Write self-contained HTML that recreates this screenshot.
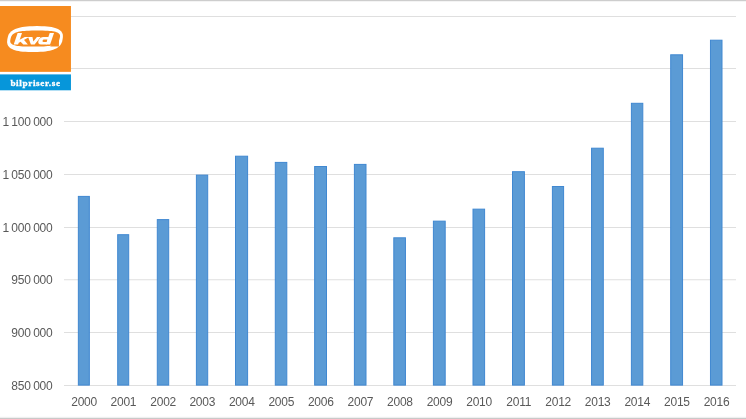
<!DOCTYPE html>
<html><head><meta charset="utf-8"><title>chart</title>
<style>
html,body{margin:0;padding:0;background:#fff;}
body{width:746px;height:419px;position:relative;overflow:hidden;font-family:"Liberation Sans",sans-serif;}
svg{position:absolute;left:0;top:0;display:block;}
.t{position:absolute;left:0;top:0;width:746px;height:419px;will-change:transform;opacity:.999;}
.yl{position:absolute;left:0;width:52.5px;text-align:right;font-size:12px;line-height:14px;color:#595959;word-spacing:-0.7px;letter-spacing:-0.22px;white-space:nowrap;}
.xl{position:absolute;width:40px;letter-spacing:-0.25px;text-align:center;font-size:12px;line-height:14px;color:#595959;top:395px;}
.bp{position:absolute;left:0;top:74.8px;width:71px;color:#fff;font-family:"Liberation Serif",serif;font-weight:bold;font-size:9.2px;line-height:16px;text-align:center;letter-spacing:.62px;-webkit-text-stroke:.3px #fff;}
</style></head><body>
<svg width="746" height="419" viewBox="0 0 746 419">
<rect x="0" y="0" width="746" height="1" fill="#cdcdcd"/><rect x="0" y="1" width="746" height="1" fill="#f4f4f4"/>
<rect x="0" y="416" width="746" height="1" fill="#fcfcfc"/><rect x="0" y="417" width="746" height="1" fill="#efefef"/><rect x="0" y="418" width="746" height="1" fill="#c9c9c9"/>
<rect x="64.0" y="16.00" width="672.0" height="1" fill="#dfdfdf"/>
<rect x="64.0" y="68.00" width="672.0" height="1" fill="#dfdfdf"/>
<rect x="64.0" y="121.00" width="672.0" height="1" fill="#dfdfdf"/>
<rect x="64.0" y="174.00" width="672.0" height="1" fill="#dfdfdf"/>
<rect x="64.0" y="227.00" width="672.0" height="1" fill="#dfdfdf"/>
<rect x="64.0" y="279.25" width="672.0" height="1" fill="#dfdfdf"/>
<rect x="64.0" y="332.00" width="672.0" height="1" fill="#dfdfdf"/>
<rect x="64.0" y="385.00" width="672.0" height="1" fill="#dfdfdf"/>
<rect x="77.85" y="195.90" width="11.00" height="188.70" fill="#5b9bd5" stroke="#4088d1" stroke-width="1" stroke-linejoin="miter" transform="translate(0.5 0.5)"/>
<rect x="117.20" y="234.20" width="11.00" height="150.40" fill="#5b9bd5" stroke="#4088d1" stroke-width="1" stroke-linejoin="miter" transform="translate(0.5 0.5)"/>
<rect x="156.80" y="219.10" width="11.40" height="165.50" fill="#5b9bd5" stroke="#4088d1" stroke-width="1" stroke-linejoin="miter" transform="translate(0.5 0.5)"/>
<rect x="195.90" y="174.60" width="11.30" height="210.00" fill="#5b9bd5" stroke="#4088d1" stroke-width="1" stroke-linejoin="miter" transform="translate(0.5 0.5)"/>
<rect x="235.00" y="155.70" width="12.10" height="228.90" fill="#5b9bd5" stroke="#4088d1" stroke-width="1" stroke-linejoin="miter" transform="translate(0.5 0.5)"/>
<rect x="274.80" y="161.90" width="11.50" height="222.70" fill="#5b9bd5" stroke="#4088d1" stroke-width="1" stroke-linejoin="miter" transform="translate(0.5 0.5)"/>
<rect x="314.15" y="166.00" width="11.85" height="218.60" fill="#5b9bd5" stroke="#4088d1" stroke-width="1" stroke-linejoin="miter" transform="translate(0.5 0.5)"/>
<rect x="353.90" y="163.90" width="11.60" height="220.70" fill="#5b9bd5" stroke="#4088d1" stroke-width="1" stroke-linejoin="miter" transform="translate(0.5 0.5)"/>
<rect x="393.30" y="237.30" width="11.65" height="147.30" fill="#5b9bd5" stroke="#4088d1" stroke-width="1" stroke-linejoin="miter" transform="translate(0.5 0.5)"/>
<rect x="432.90" y="220.65" width="11.80" height="163.95" fill="#5b9bd5" stroke="#4088d1" stroke-width="1" stroke-linejoin="miter" transform="translate(0.5 0.5)"/>
<rect x="472.50" y="208.65" width="11.60" height="175.95" fill="#5b9bd5" stroke="#4088d1" stroke-width="1" stroke-linejoin="miter" transform="translate(0.5 0.5)"/>
<rect x="512.00" y="171.20" width="11.90" height="213.40" fill="#5b9bd5" stroke="#4088d1" stroke-width="1" stroke-linejoin="miter" transform="translate(0.5 0.5)"/>
<rect x="551.90" y="186.00" width="11.20" height="198.60" fill="#5b9bd5" stroke="#4088d1" stroke-width="1" stroke-linejoin="miter" transform="translate(0.5 0.5)"/>
<rect x="591.05" y="147.70" width="11.75" height="236.90" fill="#5b9bd5" stroke="#4088d1" stroke-width="1" stroke-linejoin="miter" transform="translate(0.5 0.5)"/>
<rect x="630.90" y="102.80" width="11.40" height="281.80" fill="#5b9bd5" stroke="#4088d1" stroke-width="1" stroke-linejoin="miter" transform="translate(0.5 0.5)"/>
<rect x="670.20" y="54.30" width="11.85" height="330.30" fill="#5b9bd5" stroke="#4088d1" stroke-width="1" stroke-linejoin="miter" transform="translate(0.5 0.5)"/>
<rect x="709.97" y="39.70" width="11.53" height="344.90" fill="#5b9bd5" stroke="#4088d1" stroke-width="1" stroke-linejoin="miter" transform="translate(0.5 0.5)"/>
<rect x="0" y="6" width="70.95" height="65.85" fill="#f68b1f"/>
<rect x="0" y="74.4" width="70.95" height="15.9" fill="#0696da"/>
<path d="M62.60,39.05L62.19,41.17L61.73,42.59L61.15,43.81L60.43,44.90L59.58,45.89L58.58,46.80L57.45,47.63L56.18,48.38L54.76,49.07L53.21,49.68L51.52,50.22L49.67,50.69L47.68,51.09L45.51,51.42L43.14,51.67L40.52,51.85L37.48,51.96L32.95,52.00L28.43,51.96L25.43,51.85L22.86,51.67L20.57,51.42L18.51,51.09L16.64,50.69L14.95,50.22L13.42,49.68L12.06,49.07L10.87,48.38L9.83,47.63L8.96,46.80L8.26,45.89L7.72,44.90L7.35,43.81L7.15,42.59L7.14,41.17L7.40,39.05L7.81,36.93L8.27,35.51L8.85,34.29L9.57,33.20L10.42,32.21L11.42,31.30L12.55,30.47L13.82,29.72L15.24,29.03L16.79,28.42L18.48,27.88L20.33,27.41L22.32,27.01L24.49,26.68L26.86,26.43L29.48,26.25L32.52,26.14L37.05,26.10L41.57,26.14L44.57,26.25L47.14,26.43L49.43,26.68L51.49,27.01L53.36,27.41L55.05,27.88L56.58,28.42L57.94,29.03L59.13,29.72L60.17,30.47L61.04,31.30L61.74,32.21L62.28,33.20L62.65,34.29L62.85,35.51L62.86,36.93Z" fill="#fff"/>
<path d="M59.65,38.60L59.16,40.34L58.75,41.28L58.27,42.04L57.70,42.69L57.02,43.27L56.25,43.79L55.37,44.25L54.38,44.67L53.27,45.04L52.05,45.37L50.70,45.66L49.21,45.91L47.58,46.12L45.76,46.29L43.72,46.43L41.38,46.52L38.49,46.58L33.16,46.60L27.83,46.58L24.97,46.52L22.67,46.43L20.70,46.29L18.97,46.12L17.44,45.91L16.08,45.66L14.87,45.37L13.82,45.04L12.90,44.67L12.11,44.25L11.46,43.79L10.95,43.27L10.56,42.69L10.32,42.04L10.22,41.28L10.27,40.34L10.65,38.60L11.14,36.86L11.55,35.92L12.03,35.16L12.60,34.51L13.28,33.93L14.05,33.41L14.93,32.95L15.92,32.53L17.03,32.16L18.25,31.83L19.60,31.54L21.09,31.29L22.72,31.08L24.54,30.91L26.58,30.77L28.92,30.68L31.81,30.62L37.14,30.60L42.47,30.62L45.33,30.68L47.63,30.77L49.60,30.91L51.33,31.08L52.86,31.29L54.22,31.54L55.43,31.83L56.48,32.16L57.40,32.53L58.19,32.95L58.84,33.41L59.35,33.93L59.74,34.51L59.98,35.16L60.08,35.92L60.03,36.86ZM50,46.55L59.0,40.5L58.9,46.55Z" fill="#f68b1f"/>
<g transform="translate(0 44.4) skewX(-19) translate(0 -44.4)" fill="#fff">
<path d="M13.7,33H18.1V44.4H13.7Z"/>
<path d="M17.6,39.9L22.3,37.05H26.6L17.6,43.2Z"/>
<path d="M19.3,41.4L22,39.6L27.9,44.4H23.3Z"/>
<path d="M25.6,37.05H29.9L32.4,41.6L34.4,37.05H38.1L34.6,44.4H30.9Z"/>
<path d="M45.8,33H50.1V44.4H45.8Z"/>
<path fill-rule="evenodd" d="M41,37.05H46.5V44.4H41C38.8,44.4 37.2,43 37.2,40.7C37.2,38.5 38.8,37.05 41,37.05ZM42.6,39.6C41.8,39.6 41.3,40.1 41.3,40.75C41.3,41.4 41.8,41.9 42.6,41.9H46V39.6Z"/>
</g>
</svg>
<div class="t">
<div class="yl" style="top:115.0px">1 100 000</div>
<div class="yl" style="top:168.0px">1 050 000</div>
<div class="yl" style="top:221.0px">1 000 000</div>
<div class="yl" style="top:273.0px">950 000</div>
<div class="yl" style="top:326.0px">900 000</div>
<div class="yl" style="top:379.0px">850 000</div>
<div class="xl" style="left:64.1px">2000</div>
<div class="xl" style="left:103.4px">2001</div>
<div class="xl" style="left:143.2px">2002</div>
<div class="xl" style="left:182.3px">2003</div>
<div class="xl" style="left:221.8px">2004</div>
<div class="xl" style="left:261.3px">2005</div>
<div class="xl" style="left:300.8px">2006</div>
<div class="xl" style="left:340.4px">2007</div>
<div class="xl" style="left:379.9px">2008</div>
<div class="xl" style="left:419.5px">2009</div>
<div class="xl" style="left:459.1px">2010</div>
<div class="xl" style="left:498.7px">2011</div>
<div class="xl" style="left:538.2px">2012</div>
<div class="xl" style="left:577.7px">2013</div>
<div class="xl" style="left:617.3px">2014</div>
<div class="xl" style="left:656.9px">2015</div>
<div class="xl" style="left:696.5px">2016</div>
<div class="bp">bilpriser.se</div>
</div>
</body></html>
